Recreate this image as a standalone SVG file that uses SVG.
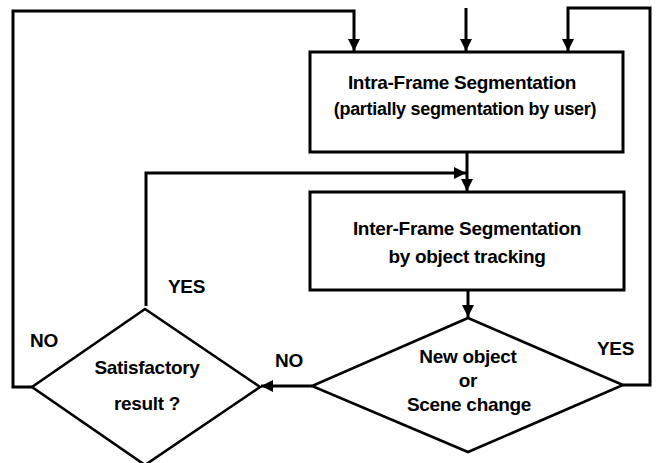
<svg xmlns="http://www.w3.org/2000/svg" width="657" height="463" viewBox="0 0 657 463">
<style>
.shape{fill:#fff;stroke:#000;stroke-width:3}
.dia{fill:#fff;stroke:#000;stroke-width:2.6}
.conn{fill:none;stroke:#000;stroke-width:3}
text{font-family:"Liberation Sans",Arial,sans-serif;font-weight:bold;font-size:19px;fill:#000;letter-spacing:-0.3px}
.c{text-anchor:middle}
</style>
<defs>
<marker id="ah" viewBox="0 0 12 12" refX="12" refY="6" markerWidth="12" markerHeight="12" markerUnits="userSpaceOnUse" orient="auto">
<path d="M0,0 L12,6 L0,12 Z" fill="#000"/>
</marker>
</defs>
<rect width="657" height="463" fill="#fff"/>
<g id="connectors">
<path class="conn" d="M32,387 H13 V11 H354 V51" marker-end="url(#ah)"/>
<path class="conn" d="M466,8 V51" marker-end="url(#ah)"/>
<path class="conn" d="M623,385 H650 V8 H568 V51" marker-end="url(#ah)"/>
<path class="conn" d="M467,152 V191" marker-end="url(#ah)"/>
<path class="conn" d="M146,306 V173 H466" marker-end="url(#ah)"/>
<path class="conn" d="M468,290 V317" marker-end="url(#ah)"/>
<path class="conn" d="M312,386 H261" marker-end="url(#ah)"/>
</g>
<g id="intra">
<rect class="shape" x="310" y="52" width="313" height="100"/>
<text class="c" x="462" y="89">Intra-Frame Segmentation</text>
<text class="c" x="465" y="115" style="font-size:18px">(partially segmentation by user)</text>
</g>
<g id="inter">
<rect class="shape" x="310" y="192" width="314" height="98"/>
<text class="c" x="467" y="235">Inter-Frame Segmentation</text>
<text class="c" x="467" y="263">by object tracking</text>
</g>
<g id="newobj">
<polygon class="dia" points="468,318 623,385 468,452 312,386"/>
<text class="c" x="468" y="363">New object</text>
<text class="c" x="468" y="387">or</text>
<text class="c" x="469" y="411">Scene change</text>
</g>
<g id="satisfy">
<polygon class="dia" points="145,309 260,387 145,465 32,387"/>
<text class="c" x="147" y="374">Satisfactory</text>
<text class="c" x="147" y="410">result ?</text>
</g>
<g id="labels">
<text x="168" y="293">YES</text>
<text x="30" y="347">NO</text>
<text x="275" y="367">NO</text>
<text x="597" y="355">YES</text>
</g>
</svg>
